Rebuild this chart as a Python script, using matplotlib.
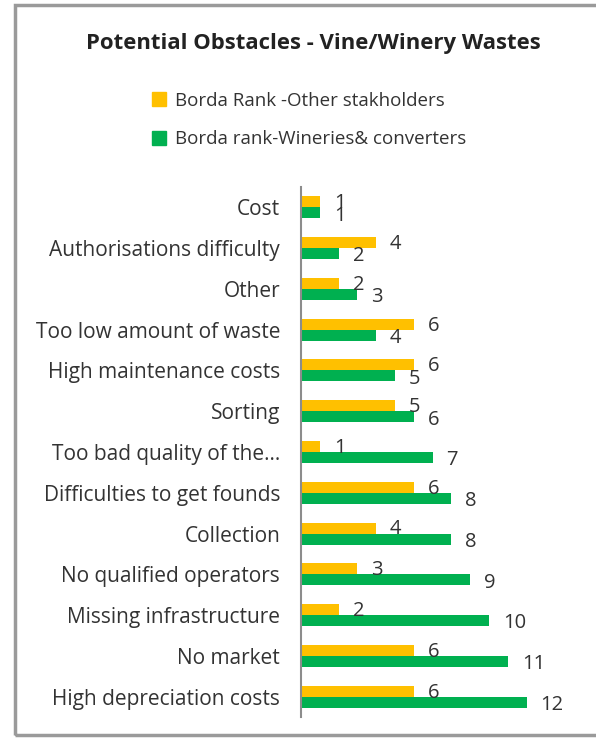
import matplotlib
matplotlib.use("Agg")
import matplotlib.pyplot as plt
from matplotlib.patches import Rectangle, Patch

categories = ["Cost", "Authorisations difficulty", "Other", "Too low amount of waste",
              "High maintenance costs", "Sorting", "Too bad quality of the...",
              "Difficulties to get founds", "Collection", "No qualified operators",
              "Missing infrastructure", "No market", "High depreciation costs"]
other_stakeholders = [1, 4, 2, 6, 6, 5, 1, 6, 4, 3, 2, 6, 6]
wineries_converters = [1, 2, 3, 4, 5, 6, 7, 8, 8, 9, 10, 11, 12]
series_names = ["Borda Rank -Other stakholders", "Borda rank-Wineries& converters"]
title = "Potential Obstacles - Vine/Winery Wastes"

YELLOW = "#FFC000"
GREEN = "#00B050"
TXT = "#333333"
FONT = "Open Sans"

W, H = 596, 741
fig = plt.figure(figsize=(W / 100, H / 100), dpi=100)

# outer frame
fig.patches.append(Rectangle((15 / W, 1 - 735 / H), 1.0, (735 - 5) / H,
                             transform=fig.transFigure, fill=False,
                             edgecolor="#9a9a9a", lw=2.5, zorder=0))

ax = fig.add_axes([301 / W, 1 - 717 / H, (585 - 301) / W, (717 - 187) / H])

n = len(categories)
pos = list(range(n))
h = 0.27
ax.barh([p - h / 2 for p in pos], other_stakeholders, height=h, color=YELLOW, label=series_names[0])
ax.barh([p + h / 2 for p in pos], wineries_converters, height=h, color=GREEN, label=series_names[1])

for p, v in zip(pos, other_stakeholders):
    ax.annotate(str(v), (v, p - h / 2), xytext=(10, -1), textcoords="offset points",
                ha="left", va="center", fontsize=14.5, color=TXT, family=FONT)
for p, v in zip(pos, wineries_converters):
    ax.annotate(str(v), (v, p + h / 2), xytext=(10, -2), textcoords="offset points",
                ha="left", va="center", fontsize=14.5, color=TXT, family=FONT)

ax.set_ylim(n - 0.5, -0.5)
ax.set_xlim(0, 15.1)
ax.set_yticks(pos)
ax.set_yticklabels(categories, fontsize=15, color=TXT, family=FONT)
ax.tick_params(axis="y", length=0, pad=15)
ax.set_xticks([])
for s in ["top", "right", "bottom"]:
    ax.spines[s].set_visible(False)
ax.spines["left"].set_color("#8c8c8c")
ax.spines["left"].set_linewidth(1.5)

fig.text(313 / W, 1 - 44 / H, title, ha="center", va="center", fontsize=15.9,
         fontweight="bold", color="#222222", family=FONT)

handles = [Patch(color=YELLOW), Patch(color=GREEN)]
leg = fig.legend(handles, series_names, loc="center left",
                 bbox_to_anchor=(135 / W, 1 - 120 / H), frameon=False,
                 prop={"family": FONT, "size": 13.5}, handlelength=0.75, handleheight=0.75,
                 handletextpad=0.5, labelspacing=1.1)
for t in leg.get_texts():
    t.set_color(TXT)

fig.savefig("out.png", dpi=100)
